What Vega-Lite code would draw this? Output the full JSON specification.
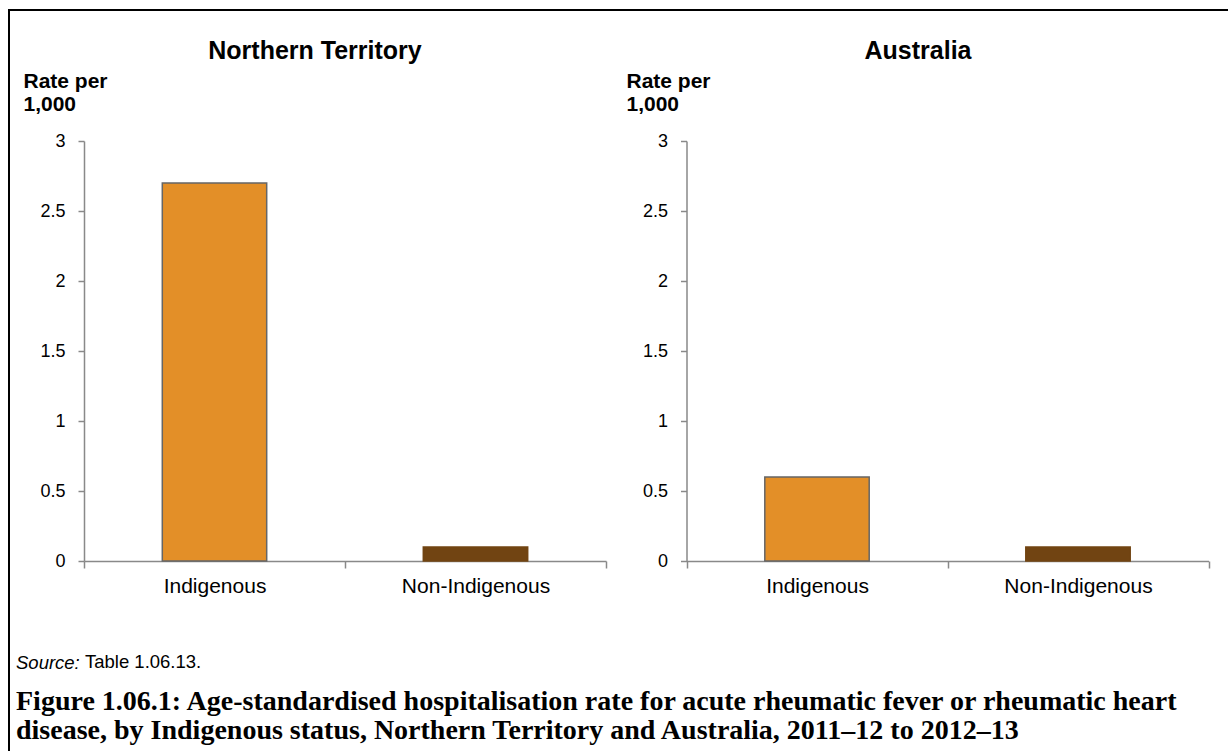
{
  "$schema": "https://vega.github.io/schema/vega-lite/v6.json",
  "autosize": {"type": "pad"},
  "padding": {"left": 8, "top": 9, "right": 0, "bottom": 0},
  "background": "white",
  "config": {
    "view": {"stroke": "#000000", "strokeWidth": 2},
    "font": "Liberation Sans",
    "axis": {"grid": false, "labelFont": "Liberation Sans", "titleFont": "Liberation Sans"}
  },
  "datasets": {
    "rates": [
      {"region": "Northern Territory", "status": "Indigenous", "rate": 2.7},
      {"region": "Northern Territory", "status": "Non-Indigenous", "rate": 0.1},
      {"region": "Australia", "status": "Indigenous", "rate": 0.6},
      {"region": "Australia", "status": "Non-Indigenous", "rate": 0.1}
    ]
  },
  "title": {
    "text": "Source:",
    "subtitle": [
      "Figure 1.06.1: Age-standardised hospitalisation rate for acute rheumatic fever or rheumatic heart",
      "disease, by Indigenous status, Northern Territory and Australia, 2011–12 to 2012–13"
    ],
    "orient": "bottom",
    "anchor": "start",
    "frame": "group",
    "offset": -102,
    "dx": 7,
    "font": "Liberation Sans",
    "fontSize": 18.5,
    "fontStyle": "italic",
    "fontWeight": "normal",
    "color": "#000000",
    "subtitleFont": "Liberation Serif",
    "subtitleFontSize": 28,
    "subtitleFontWeight": "bold",
    "subtitleColor": "#000000",
    "subtitleLineHeight": 29,
    "subtitlePadding": 15.5
  },
  "vconcat": [
    {
      "width": 1225,
      "height": 745,
      "data": {"name": "rates"},
      "title": {
        "text": "Table 1.06.13.",
        "orient": "bottom",
        "anchor": "start",
        "frame": "group",
        "offset": -102,
        "dx": 76,
        "font": "Liberation Sans",
        "fontSize": 18.5,
        "fontWeight": "normal",
        "color": "#000000"
      },
      "resolve": {
        "scale": {"x": "independent", "y": "independent"},
        "axis": {"x": "independent", "y": "independent"}
      },
      "layer": [
        {
          "transform": [{"filter": "datum.region === 'Northern Territory'"}],
          "mark": {"type": "bar", "width": {"band": 0.4}, "strokeWidth": 1.5},
          "encoding": {
            "x": {
              "field": "status", "type": "nominal", "sort": ["Indigenous", "Non-Indigenous"],
              "scale": {"range": [75, 597], "paddingInner": 0, "paddingOuter": 0},
              "axis": {
                "orient": "bottom", "offset": -194, "tickBand": "extent", "labelAngle": 0,
                "labelFontSize": 21, "labelColor": "#000000", "labelPadding": 7,
                "tickSize": 7, "tickColor": "#898989", "tickWidth": 1.5,
                "domainColor": "#898989", "domainWidth": 1.5,
                "title": "Northern Territory", "titleFontSize": 25, "titleFontWeight": "bold", "titleColor": "#000000",
                "titleX": 305.5, "titleY": -503, "titleAlign": "center", "titleBaseline": "alphabetic"
              }
            },
            "y": {
              "field": "rate", "type": "quantitative",
              "scale": {"domain": [0, 3], "range": [551, 131], "nice": false},
              "axis": {
                "orient": "left", "offset": -75, "values": [0, 0.5, 1, 1.5, 2, 2.5, 3], "format": "~g",
                "labelFontSize": 18, "labelColor": "#000000", "labelPadding": 13,
                "tickSize": 6, "tickColor": "#898989", "tickWidth": 1.5,
                "domainColor": "#898989", "domainWidth": 1.5,
                "title": ["Rate per", "1,000"], "titleAngle": 0, "titleAlign": "left", "titleBaseline": "alphabetic",
                "titleX": -61, "titleY": 77, "titleFontSize": 21, "titleFontWeight": "bold", "titleColor": "#000000",
                "titleLineHeight": 23
              }
            },
            "color": {
              "field": "status", "type": "nominal",
              "scale": {"domain": ["Indigenous", "Non-Indigenous"], "range": ["#E38F28", "#714412"]},
              "legend": null
            },
            "stroke": {
              "field": "status", "type": "nominal",
              "scale": {"domain": ["Indigenous", "Non-Indigenous"], "range": ["#666666", "#714412"]},
              "legend": null
            }
          }
        },
        {
          "transform": [{"filter": "datum.region === 'Australia'"}],
          "mark": {"type": "bar", "width": {"band": 0.4}, "strokeWidth": 1.5},
          "encoding": {
            "x": {
              "field": "status", "type": "nominal", "sort": ["Indigenous", "Non-Indigenous"],
              "scale": {"range": [677.5, 1199.5], "paddingInner": 0, "paddingOuter": 0},
              "axis": {
                "orient": "bottom", "offset": -194, "tickBand": "extent", "labelAngle": 0,
                "labelFontSize": 21, "labelColor": "#000000", "labelPadding": 7,
                "tickSize": 7, "tickColor": "#898989", "tickWidth": 1.5,
                "domainColor": "#898989", "domainWidth": 1.5,
                "title": "Australia", "titleFontSize": 25, "titleFontWeight": "bold", "titleColor": "#000000",
                "titleX": 908.5, "titleY": -503, "titleAlign": "center", "titleBaseline": "alphabetic"
              }
            },
            "y": {
              "field": "rate", "type": "quantitative",
              "scale": {"domain": [0, 3], "range": [551, 131], "nice": false},
              "axis": {
                "orient": "left", "offset": -677.5, "values": [0, 0.5, 1, 1.5, 2, 2.5, 3], "format": "~g",
                "labelFontSize": 18, "labelColor": "#000000", "labelPadding": 13,
                "tickSize": 6, "tickColor": "#898989", "tickWidth": 1.5,
                "domainColor": "#898989", "domainWidth": 1.5,
                "title": ["Rate per", "1,000"], "titleAngle": 0, "titleAlign": "left", "titleBaseline": "alphabetic",
                "titleX": -60.5, "titleY": 77, "titleFontSize": 21, "titleFontWeight": "bold", "titleColor": "#000000",
                "titleLineHeight": 23
              }
            },
            "color": {
              "field": "status", "type": "nominal",
              "scale": {"domain": ["Indigenous", "Non-Indigenous"], "range": ["#E38F28", "#714412"]},
              "legend": null
            },
            "stroke": {
              "field": "status", "type": "nominal",
              "scale": {"domain": ["Indigenous", "Non-Indigenous"], "range": ["#666666", "#714412"]},
              "legend": null
            }
          }
        }
      ]
    }
  ]
}
